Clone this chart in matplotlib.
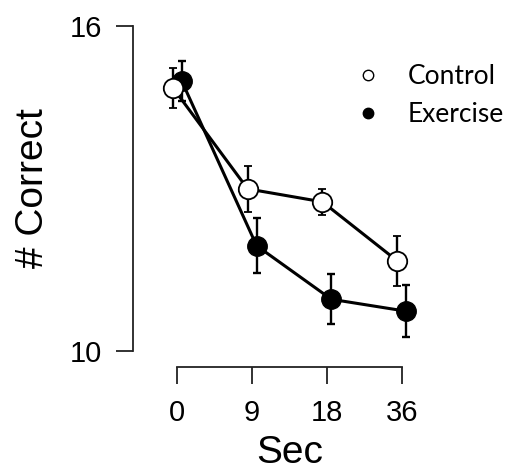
import matplotlib
matplotlib.use("Agg")
from matplotlib import pyplot as plt
from matplotlib.lines import Line2D

# data
delays = ["0", "9", "18", "36"]
control_mean = [14.86, 12.99, 12.75, 11.66]
control_err = [0.37, 0.42, 0.24, 0.46]
exercise_mean = [14.98, 11.94, 10.95, 10.73]
exercise_err = [0.37, 0.51, 0.46, 0.48]

plt.rcParams['font.family'] = ['Liberation Sans', 'DejaVu Sans']

fig = plt.figure(figsize=(5.05, 4.72), dpi=100)
ax = fig.add_axes([0.2628, 0.2231, 0.6216, 0.7449])

pos = list(range(len(delays)))
shift = 0.06

# exercise first, control on top (open circles overlap filled ones at 0)
ax.errorbar([p + shift for p in pos], exercise_mean, yerr=exercise_err,
            color='black', lw=2.2, marker='o', ms=14, mfc='black', mec='black',
            ecolor='black', elinewidth=1.7, capsize=2.9, capthick=1.7, zorder=2)
ax.errorbar([p - shift for p in pos], control_mean, yerr=control_err,
            color='black', lw=2.2, marker='o', ms=14, mfc='white', mec='black',
            mew=1.3, ecolor='black', elinewidth=1.7, capsize=2.9, capthick=1.7, zorder=3)

ax.set_xlim(-0.596, 3.6)
ax.set_ylim(9.705, 16.2)

# R-style axes
for s in ['top', 'right']:
    ax.spines[s].set_visible(False)
ax.spines['left'].set_bounds(10, 16)
ax.spines['bottom'].set_bounds(0, 3)
ax.spines['left'].set_linewidth(1.3)
ax.spines['bottom'].set_linewidth(1.3)
ax.spines['left'].set_color('#222222')
ax.spines['bottom'].set_color('#222222')

ax.set_yticks([10, 16])
ax.set_yticklabels(["10", "16"])
ax.set_xticks(pos)
ax.set_xticklabels(delays)
ax.tick_params(axis='both', length=12, width=1.3, labelsize=21, color='#222222')
ax.tick_params(axis='y', pad=10)
ax.tick_params(axis='x', pad=11)

fig.text(43 / 505, 1 - 188 / 472, '# Correct', fontsize=28, rotation=90,
         rotation_mode='anchor', ha='center', va='baseline')
fig.text(290 / 505, 1 - 463 / 472, 'Sec', fontsize=28, ha='center', va='baseline')

handles = [
    Line2D([], [], ls='none', marker='o', ms=7.5, mfc='white', mec='black', mew=1.0),
    Line2D([], [], ls='none', marker='o', ms=7.5, mfc='black', mec='black'),
]
ax.legend(handles, ["Control", "Exercise"], loc='upper left',
          bbox_to_anchor=(355 / 505, 1 - 64 / 472), bbox_transform=fig.transFigure,
          frameon=False, prop={'family': 'Lato', 'size': 19}, handlelength=1.0,
          handletextpad=1.0, labelspacing=0.49, borderpad=0, borderaxespad=0)

plt.savefig("out.png", dpi=100)
